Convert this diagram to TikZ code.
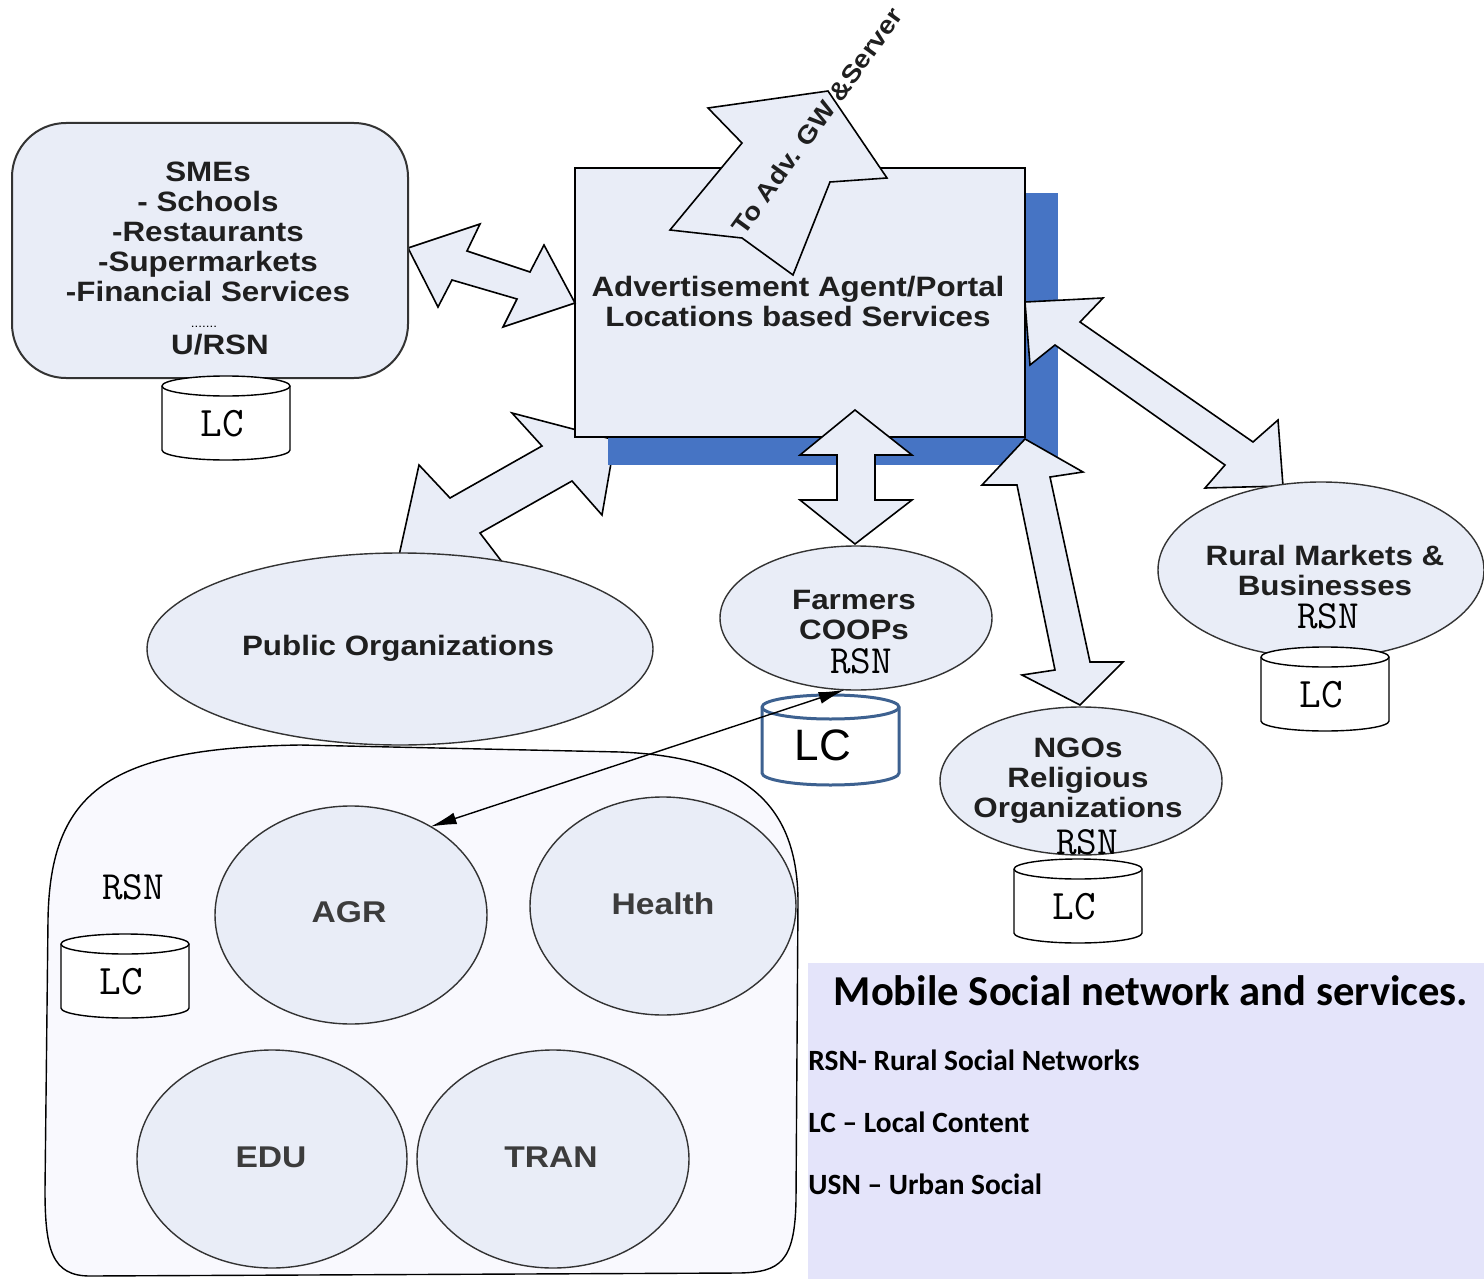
\documentclass[tikz,border=0pt]{standalone}
\usepackage{fontspec}
\setmainfont{Liberation Sans}
\newfontfamily\arl[FakeStretch=1.12]{Liberation Sans}
\newfontfamily\calib{Carlito}
\usetikzlibrary{shapes.geometric,arrows.meta}

\definecolor{paleblue}{HTML}{E9EDF7}
\definecolor{shadowblue}{HTML}{4674C4}
\definecolor{blobfill}{HTML}{F9F9FE}
\definecolor{legendbg}{HTML}{E4E4FA}
\definecolor{dbblue}{HTML}{3D6190}
\definecolor{textgray}{HTML}{3C3C3C}

\newcommand\cour{\ttfamily\addfontfeature{FakeStretch=1.55}}
\newcommand\courwide{\ttfamily\addfontfeature{FakeStretch=1.7}}

\tikzset{
  blk/.style={fill=paleblue, draw=black, line width=0.8pt},
  org/.style={ellipse, fill=paleblue, draw=black!80, line width=0.7pt, inner sep=0pt, outer sep=0pt},
  lbl/.style={font=\arl\bfseries\fontsize{14}{15}\selectfont, align=center, text=black!88, inner sep=0pt},
  sect/.style={font=\arl\bfseries\fontsize{15}{16}\selectfont, text=textgray, inner sep=0pt},
  rsn/.style={font=\cour\fontsize{20}{20}\selectfont, inner sep=0pt},
  key/.style={anchor=west, font=\calib\bfseries\fontsize{14.7}{17}\selectfont, inner sep=0pt},
  pics/store/.style={code={
    \draw[fill=white, line width=0.7pt] (-64,-32) -- (-64,32) arc (180:0:64 and 10) -- (64,-32) arc (0:-180:64 and 10) -- cycle;
    \draw[line width=0.7pt] (-64,-32) arc (180:0:64 and 10);
    \node[font=\courwide\fontsize{21}{21}\selectfont, inner sep=0pt] (-lc) at (-4,6) {LC};
  }}
}

\begin{document}
\begin{tikzpicture}[x=0.5pt, y=-0.5pt]
\useasboundingbox (0,0) rectangle (1484,1279);

% rural network
\draw[fill=blobfill, line width=0.7pt] (48,920) .. controls (50,790) and (110,748) .. (300,745) -- (620,752) .. controls (740,757) and (797,800) .. (798,900) -- (796,1200) .. controls (795,1262) and (780,1272) .. (740,1273) -- (90,1276) .. controls (52,1276) and (45,1250) .. (45,1190) -- cycle;

% arrow to public organizations, under the portal
\draw[blk] (398,560) -- (419,465) -- (450,498) -- (542,446) -- (512,413) -- (615,440) -- (602,515) -- (572,481) -- (480,533) -- (512,575) -- cycle;

% portal
\fill[shadowblue] (608,193) rectangle (1058,465);
\node[draw=black, fill=paleblue, line width=1pt, minimum width=225pt, minimum height=134.5pt, inner sep=0pt] (portal) at (800,302.5) {};

% block arrows
\draw[blk] (670,230) -- (742,143) -- (708,108) -- (828,91) -- (887,178) -- (830,182) -- (793,275) -- (742,238) -- cycle;
\node[lbl, font=\arl\bfseries\fontsize{12.5}{13}\selectfont, rotate=54] (gwtxt) at (817,121) {To Adv. GW \&Server};
\draw[blk] (408,248) -- (480,224) -- (467,251) -- (530,272) -- (544,245) -- (575,303) -- (503,327) -- (517,299) -- (452,280) -- (438,307) -- cycle;
\draw[blk] (855,410) -- (912,455) -- (875,455) -- (875,500) -- (912,500) -- (855,544) -- (800,500) -- (837,500) -- (837,455) -- (800,455) -- cycle;
\draw[blk] (1025,439) -- (1083,472) -- (1050,477) -- (1090,662) -- (1123,662) -- (1080,705) -- (1022,675) -- (1055,670) -- (1017,485) -- (982,485) -- cycle;
\draw[blk] (1025,302) -- (1103,298) -- (1080,322) -- (1253,442) -- (1278,420) -- (1283,486) -- (1205,488) -- (1225,465) -- (1055,345) -- (1030,365) -- cycle;

\node[lbl] (portaltxt) at (798,301) {Advertisement Agent/Portal\\Locations based Services};

% SMEs
\node[draw=black!80, fill=paleblue, line width=1pt, rounded corners=27pt, minimum width=198pt, minimum height=127.5pt] (smes) at (210,250.5) {};
\node[lbl] (smetxt) at (208,231.5) {SMEs\\- Schools\\-Restaurants\\-Supermarkets\\-Financial Services};
\node[font=\arl\fontsize{6}{6}\selectfont, inner sep=0pt] (smedots) at (204,327) {.......};
\node[lbl] (smenet) at (220,345) {U/RSN};
\pic (smedb) at (226,418) {store};

% organisations
\node[org, minimum width=253pt, minimum height=96pt] (pub) at (400,649) {};
\node[lbl] (pubtxt) at (398,648) {Public Organizations};

\node[org, minimum width=136pt, minimum height=72pt] (farmers) at (856,618) {};
\node[lbl] (farmtxt) at (854,615) {Farmers\\COOPs};
\node[rsn] (farmrsn) at (861,661) {RSN};

\node[org, minimum width=163pt, minimum height=88pt] (rural) at (1321,570) {};
\node[lbl] (ruraltxt) at (1325,570) {Rural Markets \&\\Businesses};
\node[rsn] (ruralrsn) at (1328,616) {RSN};
\pic (ruraldb) at (1325,689) {store};

\node[org, minimum width=141pt, minimum height=74pt] (ngos) at (1081,781) {};
\node[lbl] (ngotxt) at (1078,780.5) {NGOs\\Religious\\Organizations};
\node[rsn] (ngorsn) at (1087,842) {RSN};
\pic (ngodb) at (1078,901) {store};

% sectors
\node[org, minimum width=136pt, minimum height=109pt] (agr) at (351,915) {};
\node[sect] (agrtxt) at (349,912) {AGR};
\node[org, minimum width=133pt, minimum height=109pt] (health) at (663,906) {};
\node[sect] (healthtxt) at (663,904) {Health};
\node[org, minimum width=135pt, minimum height=109pt] (edu) at (272,1159) {};
\node[sect] (edutxt) at (271,1157) {EDU};
\node[org, minimum width=136pt, minimum height=109pt] (tran) at (553,1159) {};
\node[sect] (trantxt) at (551,1157) {TRAN};
\node[rsn] (leftrsn) at (133,887) {RSN};
\pic (leftdb) at (125,976) {store};

% farmers local content
\draw[dbblue, line width=1.5pt, fill=white] (762,707) -- (762,773) arc (180:0:68.5 and 12) -- (899,707) arc (0:-180:68.5 and 12) -- cycle;
\draw[dbblue, line width=1.5pt] (762,707) arc (180:0:68.5 and 12);
\node[font=\fontsize{22}{22}\selectfont, inner sep=0pt] (farmlc) at (823,745) {LC};
\draw[{Latex[length=13pt,width=6pt]}-{Latex[length=13pt,width=6pt]}, line width=0.7pt] (agr.48) -- (farmers.261);

% legend
\fill[legendbg] (808,963) rectangle (1484,1279);
\node[font=\calib\bfseries\fontsize{21.3}{25}\selectfont, inner sep=0pt] (title) at (1151,991) {Mobile Social network and services.};
\node[key] (rsnkey) at (808,1060) {RSN- Rural Social Networks};
\node[key] (lckey) at (808,1122) {LC – Local Content};
\node[key] (usnkey) at (808,1184) {USN – Urban Social};
\end{tikzpicture}
\end{document}
